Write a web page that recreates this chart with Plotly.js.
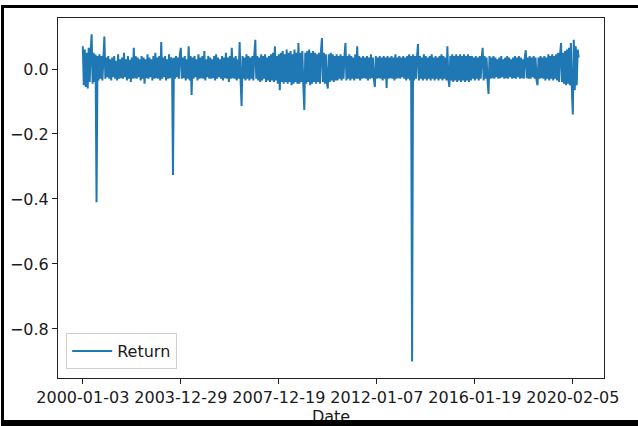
<!DOCTYPE html>
<html>
<head>
<meta charset="utf-8">
<script src="https://cdn.plot.ly/plotly-3.0.1.min.js"></script>
<style>
  html, body { margin: 0; padding: 0; background: #fff; }
  #wrap { position: relative; width: 638px; height: 426px; overflow: hidden; }
  #chart { position: absolute; left: 0; top: 0; width: 638px; height: 426px; }
  #frame { position: absolute; left: 1px; top: 5px; width: 640px; height: 412px;
           border-top: 3px solid #000; border-left: 3px solid #000; border-bottom: 6px solid #000;
           pointer-events: none; }
</style>
</head>
<body>
<div id="wrap">
  <div id="chart"></div>
  <div id="frame"></div>
</div>
<script>
// Observation-index spacing of the sampled daily return series
const sampleStride = 10;

const returns = [
  0.07, -0.05, 0.06, -0.055, 0.05, -0.06, 0.065, -0.04, 0.055, 0.107,
  -0.045, 0.05, -0.04, 0.045, -0.41, 0.04, -0.035, 0.045, -0.03, 0.04,
  -0.035, 0.03, 0.10, -0.03, 0.035, -0.025, 0.04, -0.03, 0.03, -0.035,
  0.035, -0.025, 0.04, -0.03, 0.025, -0.035, 0.045, -0.03, 0.03, -0.028,
  0.035, -0.03, 0.05, -0.025, 0.03, -0.035, 0.04, -0.03, 0.028, -0.04,
  0.035, -0.03, 0.065, -0.028, 0.04, -0.03, 0.035, -0.025, 0.03, -0.035,
  0.04, -0.03, 0.035, -0.045, 0.03, -0.028, 0.045, -0.03, 0.035, -0.025,
  0.03, -0.035, 0.04, -0.03, 0.05, -0.028, 0.035, -0.03, 0.04, -0.035,
  0.083, -0.03, 0.035, -0.025, 0.04, -0.035, 0.03, -0.03, 0.045, -0.028,
  0.035, 0.03, -0.326, 0.035, -0.03, 0.04, -0.025, 0.035, -0.03, 0.045,
  0.065, -0.03, 0.035, -0.028, 0.04, -0.035, 0.03, -0.03, 0.07, -0.035,
  0.04, -0.08, 0.035, -0.03, 0.04, -0.025, 0.03, -0.035, 0.045, -0.03,
  0.035, -0.028, 0.04, -0.03, 0.055, -0.035, 0.03, -0.025, 0.04, -0.03,
  0.035, -0.03, 0.03, -0.028, 0.04, -0.035, 0.045, -0.03, 0.035, -0.025,
  0.03, -0.03, 0.04, -0.035, 0.035, -0.028, 0.05, -0.03, 0.035, -0.04,
  0.04, -0.03, 0.065, -0.028, 0.035, -0.03, 0.04, -0.035, 0.03, -0.03,
  0.083, -0.035, -0.114, 0.04, -0.03, 0.035, -0.035, 0.045, -0.03, 0.04,
  -0.035, 0.035, -0.03, 0.04, -0.035, 0.045, 0.09, -0.03, 0.04, -0.035,
  0.035, -0.04, 0.045, -0.035, 0.04, -0.03, 0.045, -0.04, 0.035, -0.035,
  0.04, -0.04, 0.045, -0.035, 0.05, -0.04, 0.07, -0.035, 0.04, -0.045,
  0.045, -0.065, 0.05, -0.04, 0.055, -0.045, 0.045, -0.04, 0.06, -0.045,
  0.05, -0.04, 0.055, -0.05, 0.045, -0.045, 0.06, -0.04, 0.05, -0.045,
  0.08, -0.045, 0.05, -0.04, 0.055, -0.05, -0.126, 0.05, -0.045, 0.055,
  -0.04, 0.06, -0.05, 0.05, -0.045, 0.055, -0.04, 0.05, -0.045, 0.045,
  -0.04, 0.05, -0.045, 0.055, 0.095, -0.04, 0.05, -0.045, 0.045, -0.04,
  -0.06, 0.045, -0.04, 0.05, -0.035, 0.045, -0.04, 0.04, -0.035, 0.045,
  -0.035, 0.04, -0.03, 0.045, -0.035, 0.04, -0.03, 0.04, 0.08, -0.035,
  0.04, -0.03, 0.045, -0.035, 0.04, -0.03, 0.035, -0.035, 0.045, -0.03,
  0.07, -0.03, 0.04, -0.035, 0.035, -0.03, 0.04, -0.028, 0.035, -0.03,
  0.04, -0.035, 0.035, -0.03, 0.045, -0.028, 0.035, -0.03, -0.055, 0.04,
  -0.03, 0.035, -0.028, 0.04, -0.03, 0.035, -0.035, 0.04, -0.03, 0.035,
  -0.058, 0.04, -0.03, 0.035, -0.028, 0.04, -0.03, 0.035, -0.035, 0.045,
  -0.03, 0.035, -0.028, 0.04, -0.03, 0.035, -0.025, 0.04, -0.03, 0.035,
  -0.035, 0.04, -0.03, 0.045, -0.035, 0.04, -0.90, 0.045, -0.035, 0.04,
  -0.03, 0.035, 0.077, -0.035, 0.04, -0.03, 0.035, -0.035, 0.045, -0.03,
  0.04, -0.035, 0.035, -0.03, 0.04, -0.035, 0.045, -0.03, 0.035, -0.035,
  0.04, -0.03, 0.035, -0.035, 0.04, -0.03, 0.045, -0.035, 0.04, -0.03,
  0.035, -0.035, 0.07, -0.03, -0.055, 0.04, -0.035, 0.045, -0.04, 0.04,
  -0.035, 0.045, -0.04, 0.04, -0.035, 0.045, -0.04, 0.04, -0.035, 0.045,
  -0.04, 0.04, -0.035, 0.045, -0.04, 0.04, -0.035, 0.04, -0.03, 0.035,
  -0.035, 0.04, -0.03, 0.035, -0.035, 0.04, -0.03, 0.035, 0.065, -0.035,
  0.04, -0.03, 0.035, -0.035, -0.077, 0.04, -0.03, 0.035, -0.028, 0.04,
  -0.03, 0.035, -0.025, 0.03, -0.03, 0.035, -0.028, 0.04, -0.025, 0.03,
  -0.03, 0.035, -0.028, 0.04, -0.03, 0.035, -0.025, 0.03, -0.03, 0.035,
  -0.028, 0.04, -0.03, 0.035, -0.025, 0.04, -0.03, 0.035, -0.028, 0.03,
  -0.03, 0.035, 0.058, -0.028, 0.035, -0.03, 0.04, -0.03, 0.035, -0.025,
  0.04, -0.03, 0.035, -0.035, -0.05, 0.035, -0.03, 0.04, -0.028, 0.035,
  -0.03, 0.04, -0.035, 0.035, -0.03, 0.045, -0.035, 0.04, -0.03, 0.045,
  -0.035, 0.04, -0.03, 0.045, -0.035, 0.05, -0.04, 0.045, 0.08, -0.04,
  0.05, -0.045, 0.055, -0.05, 0.06, -0.045, 0.065, -0.05, 0.08, -0.06,
  -0.14, 0.09, -0.065, 0.07, -0.05, 0.06, 0.035
];

// Tick positions (observation index) and their date labels
const tickIndex = [0, 1000, 2000, 3000, 4000, 5000];
const tickDates = ["2000-01-03", "2003-12-29", "2007-12-19", "2012-01-07", "2016-01-19", "2020-02-05"];
const yTicks = [0.0, -0.2, -0.4, -0.6, -0.8];
const seriesName = "Return";
const lastIndex = 5065;

const obsIndex = returns.map((_, i) => i * sampleStride);

const font = { family: "DejaVu Sans, sans-serif", size: 16, color: "#1a1a1a" };

Plotly.newPlot("chart", [{
  x: obsIndex,
  y: returns,
  type: "scatter",
  mode: "lines",
  name: seriesName,
  line: { color: "#1f77b4", width: 2 }
}], {
  width: 638,
  height: 426,
  margin: { l: 58, r: 34, t: 18, b: 48 },
  paper_bgcolor: "#fff",
  plot_bgcolor: "#fff",
  font: font,
  showlegend: true,
  legend: {
    x: 0.015, y: 0.025, xanchor: "left", yanchor: "bottom",
    bgcolor: "rgba(255,255,255,0.8)", bordercolor: "#d0d0d0", borderwidth: 1,
    itemwidth: 40,
    font: font
  },
  xaxis: {
    range: [-0.05 * lastIndex, 1.05 * lastIndex],
    tickvals: tickIndex,
    ticktext: tickDates,
    ticks: "outside", ticklen: 5, tickcolor: "#222", tickwidth: 1,
    showgrid: false, zeroline: false,
    showline: true, mirror: true, linecolor: "#222", linewidth: 1,
    tickfont: font,
    title: { text: "Date", font: font, standoff: 13 }
  },
  yaxis: {
    range: [-0.951, 0.157],
    tickvals: yTicks,
    tickformat: ".1f",
    ticks: "outside", ticklen: 5, tickcolor: "#222", tickwidth: 1,
    showgrid: false, zeroline: false,
    showline: true, mirror: true, linecolor: "#222", linewidth: 1,
    tickfont: font
  }
}, { displayModeBar: false, staticPlot: true });
</script>
</body>
</html>
